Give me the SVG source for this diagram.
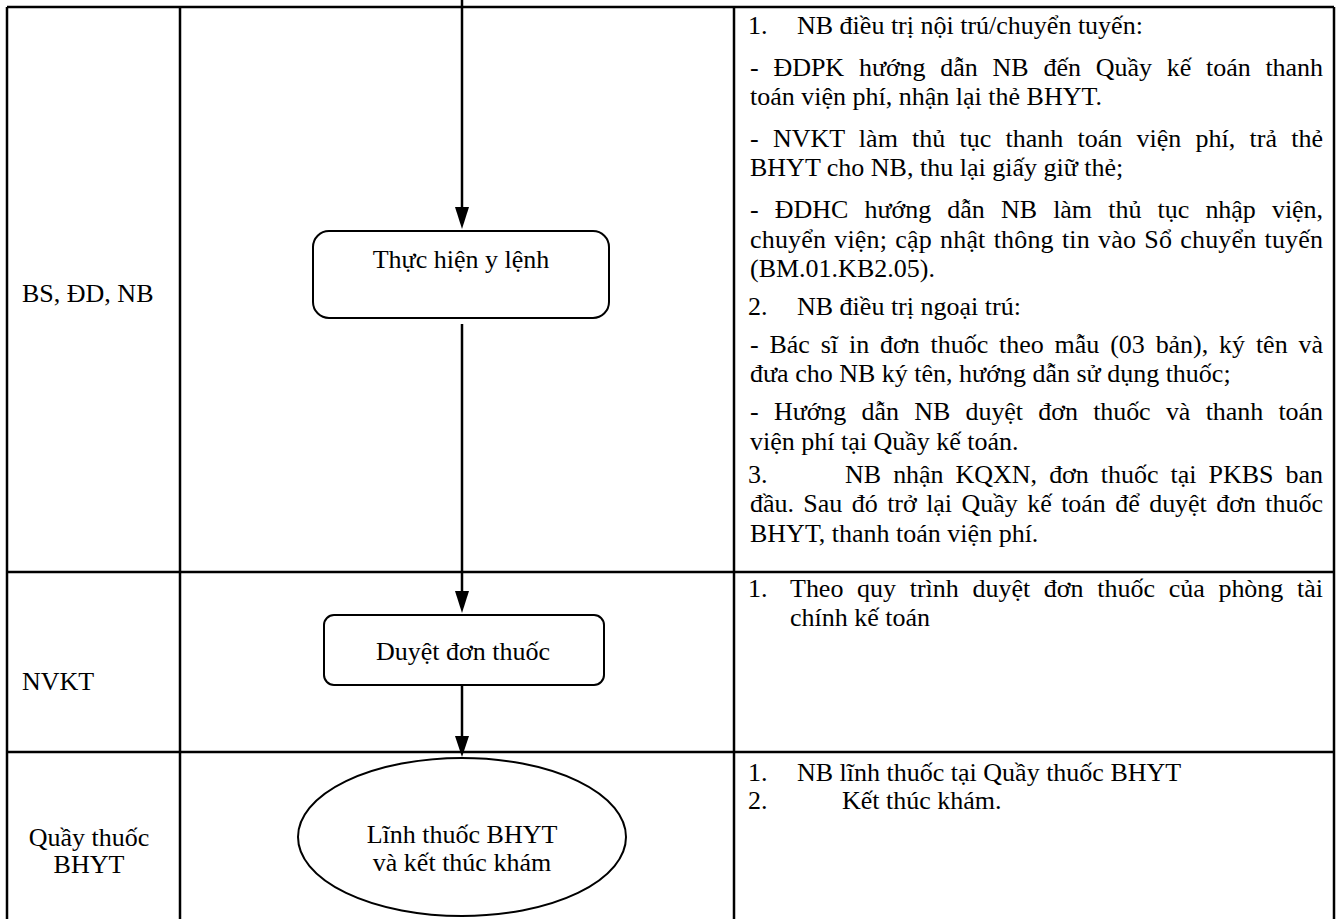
<svg xmlns="http://www.w3.org/2000/svg" width="1340" height="919" viewBox="0 0 1340 919">
<style>
text{font-family:"Liberation Serif","Times New Roman",serif;font-size:26px;fill:#000}
.grid{stroke:#000;stroke-width:2.5;fill:none}
.node{fill:#fff;stroke:#000;stroke-width:2}
.conn{stroke:#000;stroke-width:2.5;fill:none}
.head{fill:#000}
.c{text-anchor:middle}
</style>
<rect width="1340" height="919" fill="#fff"/>
<g id="table">
<line class="grid" x1="7" y1="7" x2="1334" y2="7"/>
<line class="grid" x1="7" y1="7" x2="7" y2="919"/>
<line class="grid" x1="180" y1="7" x2="180" y2="919"/>
<line class="grid" x1="734" y1="7" x2="734" y2="919"/>
<line class="grid" x1="1334" y1="7" x2="1334" y2="919"/>
<line class="grid" x1="7" y1="572" x2="1334" y2="572"/>
<line class="grid" x1="7" y1="752" x2="1334" y2="752"/>
</g>
<g id="lanes">
<text x="22" y="302">BS, ĐD, NB</text>
<text x="22" y="690">NVKT</text>
<text x="89" y="846" class="c">Quầy thuốc</text>
<text x="89" y="873" class="c">BHYT</text>
</g>
<g id="connectors">
<line class="conn" x1="462" y1="0" x2="462" y2="208"/>
<path class="head" d="M455,207 L469,207 L462,229 Z"/>
<line class="conn" x1="462" y1="324" x2="462" y2="592"/>
<path class="head" d="M455,591 L469,591 L462,613 Z"/>
<line class="conn" x1="462" y1="685" x2="462" y2="737"/>
<path class="head" d="M455,736 L469,736 L462,757 Z"/>
</g>
<g id="n1">
<rect class="node" x="313" y="231" width="296" height="87" rx="16"/>
<text x="461" y="268" class="c">Thực hiện y lệnh</text>
</g>
<g id="n2">
<rect class="node" x="324" y="615" width="280" height="70" rx="10"/>
<text x="463" y="660" class="c">Duyệt đơn thuốc</text>
</g>
<g id="n3">
<ellipse class="node" cx="462" cy="837" rx="164" ry="79"/>
<text x="462" y="843" class="c">Lĩnh thuốc BHYT</text>
<text x="462" y="871" class="c">và kết thúc khám</text>
</g>
<g id="desc1">
<text x="748" y="34">1.</text><text x="797" y="34">NB điều trị nội trú/chuyển tuyến:</text>
<text x="750" y="76" word-spacing="8.4" textLength="573" lengthAdjust="spacing">- ĐDPK hướng dẫn NB đến Quầy kế toán thanh</text>
<text x="750" y="105">toán viện phí, nhận lại thẻ BHYT.</text>
<text x="750" y="147" word-spacing="7.7" textLength="573" lengthAdjust="spacing">- NVKT làm thủ tục thanh toán viện phí, trả thẻ</text>
<text x="750" y="176">BHYT cho NB, thu lại giấy giữ thẻ;</text>
<text x="750" y="218" word-spacing="9.8" textLength="573" lengthAdjust="spacing">- ĐDHC hướng dẫn NB làm thủ tục nhập viện,</text>
<text x="750" y="248" word-spacing="1.5" textLength="573" lengthAdjust="spacing">chuyển viện; cập nhật thông tin vào Sổ chuyển tuyến</text>
<text x="750" y="277">(BM.01.KB2.05).</text>
<text x="748" y="315">2.</text><text x="797" y="315">NB điều trị ngoại trú:</text>
<text x="750" y="353" word-spacing="4.4" textLength="573" lengthAdjust="spacing">- Bác sĩ in đơn thuốc theo mẫu (03 bản), ký tên và</text>
<text x="750" y="382">đưa cho NB ký tên, hướng dẫn sử dụng thuốc;</text>
<text x="750" y="420" word-spacing="8.9" textLength="573" lengthAdjust="spacing">- Hướng dẫn NB duyệt đơn thuốc và thanh toán</text>
<text x="750" y="450">viện phí tại Quầy kế toán.</text>
<text x="748" y="483">3.</text><text x="845" y="483" word-spacing="5.6" textLength="478" lengthAdjust="spacing">NB nhận KQXN, đơn thuốc tại PKBS ban</text>
<text x="750" y="512" word-spacing="3" textLength="573" lengthAdjust="spacing">đầu. Sau đó trở lại Quầy kế toán để duyệt đơn thuốc</text>
<text x="750" y="542">BHYT, thanh toán viện phí.</text>
</g>
<g id="desc2">
<text x="748" y="597">1.</text><text x="790" y="597" word-spacing="7.2" textLength="533" lengthAdjust="spacing">Theo quy trình duyệt đơn thuốc của phòng tài</text>
<text x="790" y="626">chính kế toán</text>
</g>
<g id="desc3">
<text x="748" y="781">1.</text><text x="797" y="781">NB lĩnh thuốc tại Quầy thuốc BHYT</text>
<text x="748" y="809">2.</text><text x="842" y="809">Kết thúc khám.</text>
</g>
</svg>
